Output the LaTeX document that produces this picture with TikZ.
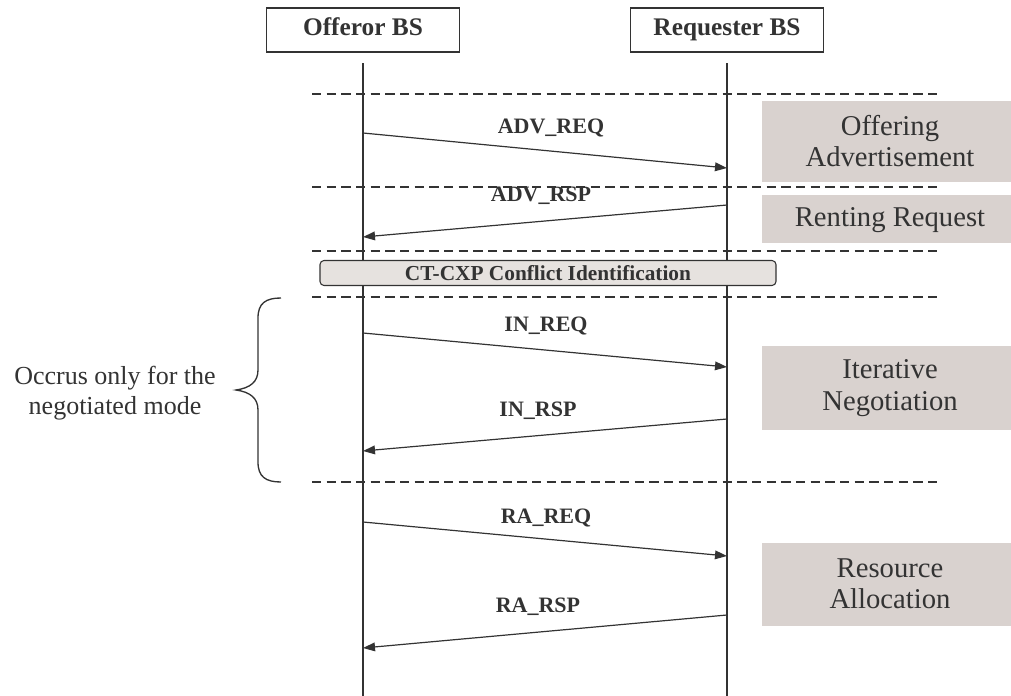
\documentclass[tikz,border=0pt]{standalone}
\usepackage{fontspec}
\setmainfont{Liberation Serif}
\usetikzlibrary{arrows.meta}
\definecolor{ink}{HTML}{333333}
\definecolor{phase}{HTML}{D9D2CF}
\definecolor{ctfill}{HTML}{E6E2DF}
\tikzset{
  actor/.style={draw=ink, line width=1pt, minimum width=145pt, minimum height=33pt, inner sep=0pt, text height=13pt, text depth=4pt, font=\fontsize{19}{21}\selectfont\bfseries, text=ink},
  life/.style={draw=ink, line width=1pt},
  sep/.style={draw=ink, line width=0.9pt, dash pattern=on 7pt off 4pt},
  msg/.style={draw=ink, line width=0.9pt, -{Triangle[length=9pt,width=6.5pt]}},
  msglabel/.style={font=\fontsize{16.5}{18}\selectfont\bfseries, text=ink, inner sep=0pt},
  phasebox/.style={fill=phase, draw=none, text=ink, align=center, inner sep=0pt, minimum width=192pt, font=\fontsize{21.5}{23.5}\selectfont},
  note/.style={text=ink, align=center, font=\fontsize{19.5}{23}\selectfont, inner sep=0pt}
}
\begin{document}
\begin{tikzpicture}[x=0.75pt, y=-0.75pt]
\useasboundingbox (0,0) rectangle (1011,696);
% actors
\node[actor] (off) at (363,30) {Offeror BS};
\node[actor] (req) at (727,30) {Requester BS};
% lifeline ends
\coordinate (offtop) at (363,63);
\coordinate (offbot) at (363,696);
\coordinate (reqtop) at (727,63);
\coordinate (reqbot) at (727,696);
\draw[life] (offtop) -- (offbot);
\draw[life] (reqtop) -- (reqbot);
% separators
\foreach \n/\y in {s1/94, s2/187, s3/251, s4/297, s5/482} {
  \coordinate (\n a) at (312,\y);
  \coordinate (\n b) at (942,\y);
  \draw[sep] (\n a) -- (\n b);
}
% phase boxes
\node[phasebox, minimum height=60.75pt] (p1) at (890,141) {Offering\\Advertisement};
\node[phasebox, minimum height=36pt, text height=15pt, text depth=4pt] (p2) at (890,219) {Renting Request};
\node[phasebox, minimum height=63pt] (p3) at (890,388) {Iterative\\Negotiation};
\node[phasebox, minimum height=62.25pt] (p4) at (890,584) {Resource\\Allocation};
% CT-CXP box
\node[draw=ink, fill=ctfill, rounded corners=3pt, line width=0.8pt, minimum width=342pt, minimum height=18.75pt, inner sep=0pt, font=\fontsize{16}{18}\selectfont\bfseries, text=ink] (ct) at (548,273) {CT-CXP Conflict Identification};
% messages
\coordinate (m1a) at (363,133); \coordinate (m1b) at (727,168);
\coordinate (m2a) at (727,205); \coordinate (m2b) at (363,237);
\coordinate (m3a) at (363,333); \coordinate (m3b) at (727,367);
\coordinate (m4a) at (727,419); \coordinate (m4b) at (363,451);
\coordinate (m5a) at (363,522); \coordinate (m5b) at (727,556);
\coordinate (m6a) at (727,615); \coordinate (m6b) at (363,648);
\draw[msg] (m1a) -- (m1b);
\draw[msg] (m2a) -- (m2b);
\draw[msg] (m3a) -- (m3b);
\draw[msg] (m4a) -- (m4b);
\draw[msg] (m5a) -- (m5b);
\draw[msg] (m6a) -- (m6b);
\node[msglabel] (l1) at (551,128) {ADV\_REQ};
\node[msglabel] (l2) at (541,196) {ADV\_RSP};
\node[msglabel] (l3) at (546,326) {IN\_REQ};
\node[msglabel] (l4) at (538,411) {IN\_RSP};
\node[msglabel] (l5) at (546,518) {RA\_REQ};
\node[msglabel] (l6) at (538,607) {RA\_RSP};
% brace
\coordinate (bt) at (281,298);
\coordinate (bm) at (236,390);
\coordinate (bb) at (281,482);
\draw[ink, line width=1pt] (bt) .. controls (266,298) and (258,303) .. (258,318)
  -- (258,370) .. controls (258,382) and (250,388) .. (bm)
  .. controls (250,392) and (258,398) .. (258,410)
  -- (258,462) .. controls (258,477) and (266,482) .. (bb);
\node[note] (nt) at (115,393) {Occrus only for the\\negotiated mode};
\end{tikzpicture}
\end{document}
